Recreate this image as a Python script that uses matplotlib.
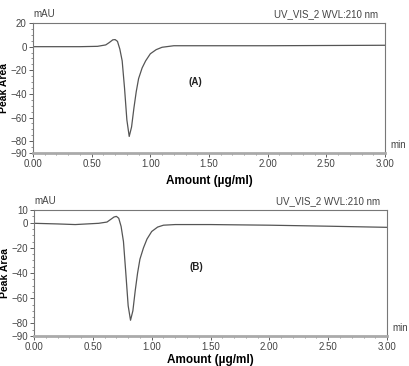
import matplotlib.pyplot as plt
from matplotlib.ticker import MultipleLocator

# retention time (min) and detector signal (mAU)
time_a = [0.00, 0.20, 0.40, 0.55, 0.62, 0.65, 0.68, 0.70, 0.72, 0.74, 0.76, 0.78, 0.80,
          0.82, 0.84, 0.86, 0.88, 0.90, 0.93, 0.96, 1.00, 1.05, 1.10, 1.20, 1.50, 2.00,
          2.50, 3.00]
signal_a = [0.0, 0.0, 0.0, 0.3, 1.5, 3.5, 5.8, 6.0, 4.5, -2.0, -12.0, -35.0, -62.0,
            -76.0, -68.0, -52.0, -38.0, -27.0, -18.0, -12.0, -6.0, -2.5, -0.5, 0.8, 0.8,
            0.8, 1.0, 1.2]

time_b = [0.00, 0.20, 0.35, 0.55, 0.62, 0.65, 0.68, 0.70, 0.72, 0.74, 0.76, 0.78, 0.80,
          0.82, 0.84, 0.86, 0.88, 0.90, 0.93, 0.96, 1.00, 1.05, 1.10, 1.20, 1.50, 2.00,
          2.50, 3.00]
signal_b = [-0.5, -1.0, -1.5, -0.5, 0.5, 2.5, 4.5, 5.0, 3.5, -3.0, -15.0, -40.0, -66.0,
            -77.5, -70.0, -54.0, -40.0, -29.0, -20.0, -13.0, -7.0, -3.5, -2.0, -1.5, -1.5,
            -2.0, -2.8, -3.7]

yticks_a = [20, 0, -20, -40, -60, -80, -90]
yticks_b = [10, 0, -20, -40, -60, -80, -90]
xticks = [0.0, 0.5, 1.0, 1.5, 2.0, 2.5, 3.0]

plt.rcParams['font.family'] = ['Liberation Sans', 'DejaVu Sans']

fig = plt.figure(figsize=(4.10, 3.66), dpi=100)
ax_a = fig.add_axes([0.0805, 0.582, 0.8585, 0.355])
ax_b = fig.add_axes([0.083, 0.082, 0.861, 0.344])


def style_panel(ax, t, y, yticks, tag, xlabel_y):
    ax.plot(t, y, color='#555555', lw=0.9)
    ax.set_xlim(0, 3)
    ax.set_ylim(yticks[-1], yticks[0])
    ax.set_xticks(xticks)
    ax.set_xticklabels(['%.2f' % v for v in xticks])
    ax.set_yticks(yticks)
    ax.xaxis.set_minor_locator(MultipleLocator(0.1))
    ax.yaxis.set_minor_locator(MultipleLocator(5))
    ax.tick_params(labelsize=7, colors='#444444', length=3, width=0.6, pad=1.5)
    ax.tick_params(which='minor', length=1.5, width=0.5, colors='#666666')
    for side in ['top', 'right', 'left']:
        ax.spines[side].set_color('#777777')
        ax.spines[side].set_linewidth(0.8)
    ax.spines['bottom'].set_color('#aaaaaa')
    ax.spines['bottom'].set_linewidth(2.0)
    ax.text(0.0, 1.03, 'mAU', transform=ax.transAxes, fontsize=7, color='#444444',
            ha='left', va='bottom')
    ax.text(0.98, 1.03, 'UV_VIS_2 WVL:210 nm', transform=ax.transAxes, fontsize=7,
            color='#444444', ha='right', va='bottom')
    ax.text(1.015, 0.02, 'min', transform=ax.transAxes, fontsize=7, color='#444444',
            ha='left', va='bottom')
    ax.text(0.46, 0.55, tag, transform=ax.transAxes, fontsize=7, fontweight='bold',
            color='#222222', ha='center', va='center')
    ax.set_ylabel('Peak Area', fontsize=7.5, fontweight='bold')
    ax.yaxis.set_label_coords(-0.068, 0.5)
    ax.set_xlabel('Amount (µg/ml)', fontsize=8.5, fontweight='bold')
    ax.xaxis.set_label_coords(0.5, xlabel_y)


style_panel(ax_a, time_a, signal_a, yticks_a, '(A)', -0.17)
style_panel(ax_b, time_b, signal_b, yticks_b, '(B)', -0.14)

fig.savefig('out.png', dpi=100)
